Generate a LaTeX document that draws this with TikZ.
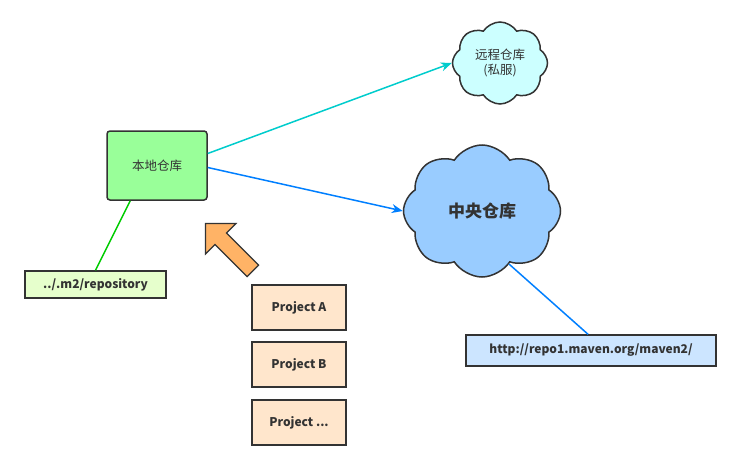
\documentclass[tikz,border=0pt]{standalone}
\usepackage{fontspec}
\setmainfont{Noto Sans CJK SC}
\usepackage{tikz}
\usetikzlibrary{shapes, shapes.symbols, shapes.arrows, arrows.meta, positioning}
\definecolor{edge}{HTML}{333333}
\definecolor{localgreen}{HTML}{99FF99}
\definecolor{pathgreen}{HTML}{E6FFCC}
\definecolor{remotecyan}{HTML}{CCFFFF}
\definecolor{centralblue}{HTML}{99CCFF}
\definecolor{urlblue}{HTML}{CCE5FF}
\definecolor{projorange}{HTML}{FFE6CC}
\definecolor{pusharrow}{HTML}{FFB366}
\definecolor{linkgreen}{HTML}{00CC00}
\definecolor{linkcyan}{HTML}{00CCCC}
\definecolor{linkblue}{HTML}{007FFF}

\begin{document}
\begin{tikzpicture}
  [
    x=1pt, y=-1pt,
    Local/.style={rectangle, rounded corners=3pt, draw=edge, fill=localgreen, line width=1.5pt, minimum width=100pt, minimum height=69pt, font=\fontsize{12.5}{14}\selectfont, text=edge},
    Label/.style={rectangle, draw=edge, line width=1.5pt, font=\bfseries\fontsize{12}{14}\selectfont, text=edge},
    Project/.style={rectangle, draw=edge, fill=projorange, line width=1.5pt, minimum width=94pt, minimum height=45pt, font=\bfseries\fontsize{12}{14}\selectfont, text=edge},
    Cloud/.style={cloud, cloud puffs=8, cloud puff arc=115, draw=edge, line width=1.5pt, text=edge}
  ]
  \useasboundingbox (0,0) rectangle (742,471);

  % Nodes
  \node[Local] (local) at (157,165.5) {本地仓库};

  \node[Label, fill=pathgreen, minimum width=141pt, minimum height=27pt] (m2) at (95.5,284.5) {../.m2/repository};

  \node[Cloud, fill=remotecyan, minimum width=95pt, minimum height=82pt, aspect=1.2, align=center, font=\fontsize{12.5}{15}\selectfont] (remote) at (500,63) {远程仓库\\(私服)};

  \node[Cloud, fill=centralblue, minimum width=157pt, minimum height=132pt, aspect=1.3, font=\bfseries\fontsize{17}{20}\selectfont] (central) at (482,211) {中央仓库};

  \node[Label, fill=urlblue, minimum width=250pt, minimum height=31pt] (url) at (591,350.5) {http://repo1.maven.org/maven2/};

  \node[Project] (projA) at (299,307.5) {Project A};

  \node[Project] (projB) at (299,364.5) {Project B};

  \node[Project] (projC) at (299,422.5) {Project ...};

  \node[single arrow, draw=edge, fill=pusharrow, line width=1.2pt, inner sep=7.5pt, single arrow head extend=13.5pt, minimum height=67pt, rotate=135] (push) at (232,250) {};

  % Lines
  \path [draw, line width=1.5pt, linkgreen] (local.south west) ++(24,0) coordinate (l1) -- (m2.north);
  \path [-{Stealth[length=11pt, width=9pt]}, draw, line width=1.5pt, linkcyan] (local.east) ++(0,-12) -- (remote.west);
  \path [-{Stealth[length=11pt, width=9pt]}, draw, line width=1.5pt, linkblue] (local.east) ++(0,2) -- (central.west);
  \path [draw, line width=1.5pt, linkblue] (central.-63) -- ([xshift=-3pt]url.north);

\end{tikzpicture}
\end{document}
